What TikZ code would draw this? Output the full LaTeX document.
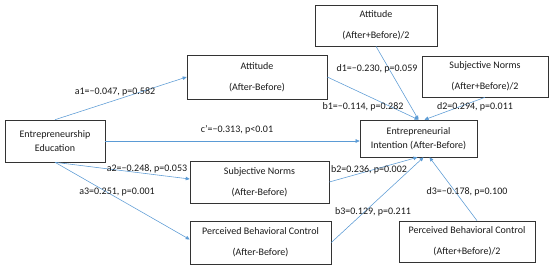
\documentclass[tikz,border=0pt]{standalone}
\usepackage{fontspec}
\setmainfont{Carlito}
\usetikzlibrary{arrows.meta,calc}
\definecolor{lineblue}{HTML}{5B9BD5}
\definecolor{txt}{HTML}{1A1A1A}
\begin{document}
\begin{tikzpicture}[x=1pt,y=-1pt,
  box/.style={draw=black!80,line width=0.6pt,rectangle,inner sep=0pt,align=center,text=txt,
    font=\fontsize{10}{21}\selectfont},
  tbox/.style={box,font=\fontsize{10}{14}\selectfont},
  conn/.style={draw=lineblue,line width=0.55pt,-{Triangle[length=4pt,width=3.5pt]}},
  lab/.style={text=txt,font=\fontsize{10}{12}\selectfont,inner sep=0pt}]
\useasboundingbox (0,0) rectangle (550,269);
\fill[white] (0,0) rectangle (550,269);
% boxes
\node[tbox,minimum width=100pt,minimum height=42pt] (ee) at (55,141) {Entrepreneurship\\Education};
\node[box,minimum width=140pt,minimum height=44pt] (att) at (257,77) {Attitude\\(After-Before)};
\node[box,minimum width=122pt,minimum height=41pt] (att2) at (376,25.5) {Attitude\\(After+Before)/2};
\node[box,minimum width=126pt,minimum height=41pt] (sn2) at (485,76.5) {Subjective Norms\\(After+Before)/2};
\node[tbox,minimum width=117pt,minimum height=37pt] (ei) at (418.5,138.5) {Entrepreneurial\\Intention (After-Before)};
\node[box,minimum width=139pt,minimum height=42pt] (sn) at (259.5,182) {Subjective Norms\\(After-Before)};
\node[box,minimum width=141pt,minimum height=43pt] (pbc) at (260.5,242.5) {Perceived Behavioral Control\\(After-Before)};
\node[box,minimum width=136pt,minimum height=41pt] (pbc2) at (467,241.5) {Perceived Behavioral Control\\(After+Before)/2};
% connectors
\draw[conn] (ee.north) -- (att.west);
\draw[conn] (ee.east) -- (ee.east -| ei.west);
\draw[conn] (ee.south) -- ($(sn.west)+(0,-3)$);
\draw[conn] (ee.south) -- ($(pbc.west)+(0,-3)$);
\draw[conn] (att.east) -- (ei.north);
\draw[conn] (att2.south) -- (ei.north);
\draw[conn] (sn2.south) -- ($(ei.north)+(6,0)$);
\draw[conn] (sn.east) -- ($(ei.south)+(-1,0)$);
\draw[conn] (pbc.east) -- ($(ei.south)+(5,0)$);
\draw[conn] ($(pbc2.north)+(10,0)$) -- ($(ei.south)+(11,0)$);
% labels
\node[lab] (la1) at (115,92) {a1=−0.047, p=0.582};
\node[lab] (lc) at (237,130) {c'=−0.313, p<0.01};
\node[lab] (la2) at (147,169) {a2=−0.248, p=0.053};
\node[lab] (la3) at (117,192) {a3=0.251, p=0.001};
\node[lab] (ld1) at (377,69) {d1=−0.230, p=0.059};
\node[lab] (lb1) at (363,107) {b1=−0.114, p=0.282};
\node[lab] (ld2) at (475,107) {d2=0.294, p=0.011};
\node[lab] (lb2) at (369,170) {b2=0.236, p=0.002};
\node[lab] (lb3) at (373,212) {b3=0.129, p=0.211};
\node[lab] (ld3) at (467,192) {d3=−0.178, p=0.100};
\end{tikzpicture}
\end{document}
